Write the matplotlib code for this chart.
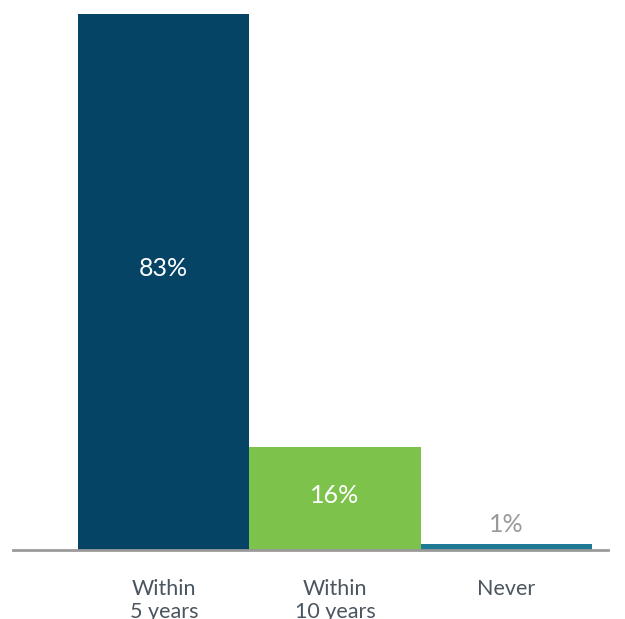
import matplotlib
matplotlib.use("Agg")
import matplotlib.pyplot as plt

categories = ["Within\n5 years", "Within\n10 years", "Never"]
values = [83, 16, 1]
labels = ["83%", "16%", "1%"]
colors = ["#064466", "#7DC24B", "#1F7A95"]

plt.rcParams['font.family'] = ['Lato', 'DejaVu Sans']

fig = plt.figure(figsize=(6.25, 6.19), dpi=100)
ax = fig.add_axes([13/625, 69/619, 595/625, 536/619])
x = list(range(len(categories)))
ax.bar(x, values, width=1.0, color=colors, edgecolor='none', zorder=2)

ax.set_xlim(-0.5 - 65/171, 2.5 + 16/171)
ax.set_ylim(0, 83)

for i, (v, lab) in enumerate(zip(values, labels)):
    if v > 5:
        ax.text(i, v * 0.525, lab, ha='center', va='center', color='white', fontsize=18)
    else:
        ax.text(i, v + 3.0, lab, ha='center', va='center', color='#9a9a9a', fontsize=18)

for s in ['top', 'right', 'left']:
    ax.spines[s].set_visible(False)
ax.spines['bottom'].set_color('#9a9a9a')
ax.spines['bottom'].set_linewidth(2)
ax.spines['bottom'].set_zorder(3)
ax.set_yticks([])
ax.set_xticks(x)
ax.set_xticklabels(categories, fontsize=15.5, color='#4a5560', linespacing=1.15)
ax.tick_params(axis='x', length=0, pad=21)

fig.savefig("out.png", dpi=100)
